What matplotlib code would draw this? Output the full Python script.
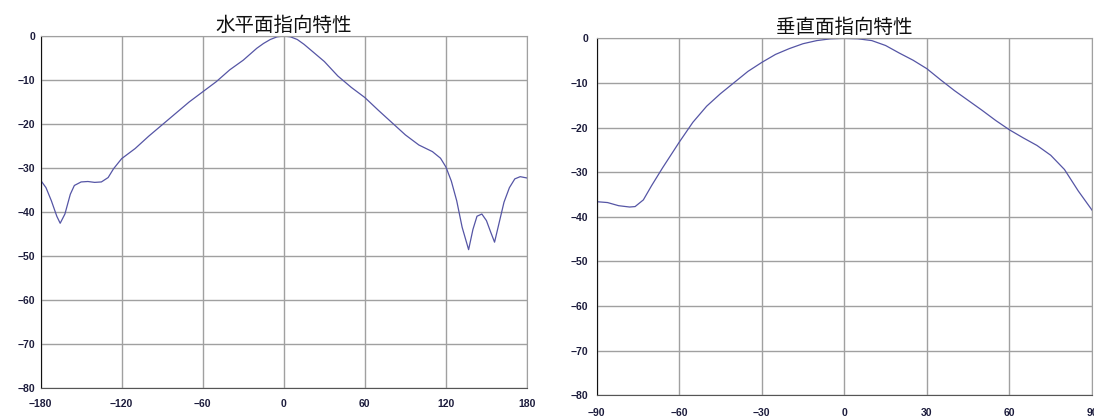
import numpy as np
import matplotlib
matplotlib.use("Agg")
import matplotlib.pyplot as plt

plt.rcParams['font.family'] = ['Noto Sans CJK JP', 'DejaVu Sans']

# horizontal plane pattern (deg, dB)
h_angles = [-180, -176, -172, -168, -165.5, -162, -158, -155, -150, -145, -140, -135,
            -130, -126, -120, -110, -100, -90, -80, -70, -60, -50, -40, -30, -20, -15,
            -10, -5, 0, 5, 10, 15, 20, 30, 40, 50, 60, 70, 80, 90, 100, 110, 116, 120,
            124, 128, 132, 136.8, 140, 143, 146.6, 150, 153, 156, 159, 163, 167, 171,
            175, 180]
h_gain = [-32.8, -34.5, -37.5, -41.0, -42.6, -40.5, -36.0, -34.0, -33.2, -33.1, -33.3, -33.2,
          -32.2, -30.2, -27.9, -25.6, -22.8, -20.2, -17.6, -15.0, -12.7, -10.4, -7.7, -5.5, -2.8, -1.7,
          -0.8, -0.2, 0.0, -0.2, -0.8, -1.9, -3.2, -5.8, -9.1, -11.7, -14.0, -16.9, -19.7, -22.5, -24.8, -26.3, -27.8, -29.8,
          -33.0, -37.5, -43.5, -48.6, -44.0, -41.0, -40.5, -42.0, -44.5, -46.9, -43.0, -37.8, -34.5, -32.5,
          -32.0, -32.3]

# vertical plane pattern (deg, dB)
v_angles = [-90, -86, -82, -78, -76, -73, -70, -66, -60, -55, -50, -45, -40, -35, -30, -25,
            -20, -15, -10, -5, 0, 5, 10, 15, 20, 25, 30, 35, 40, 45, 50, 55, 60, 65, 70,
            75, 80, 85, 90]
v_gain = [-36.6, -36.8, -37.5, -37.8, -37.7, -36.2, -33.0, -29.0, -23.3, -18.8, -15.2, -12.4,
          -9.9, -7.4, -5.4, -3.6, -2.3, -1.2, -0.5, -0.1, 0.0, -0.1, -0.5, -1.6, -3.3, -4.9,
          -6.8, -9.3, -11.7, -13.9, -16.1, -18.4, -20.5, -22.3, -24.0, -26.2, -29.4, -34.2, -38.5]

h_ticks = [-180, -120, -60, 0, 60, 120, 180]
v_ticks = [-90, -60, -30, 0, 30, 60, 90]
y_ticks = [0, -10, -20, -30, -40, -50, -60, -70, -80]

line_color = '#5555a5'
label_color = '#1c1c3c'


def style_axes(ax, xticks, title, ypad, xpad):
    ax.set_xlim(xticks[0], xticks[-1])
    ax.set_ylim(-80, 0)
    ax.set_xticks(xticks)
    ax.set_yticks(y_ticks)
    ax.grid(True, color='#a0a0a0', lw=1.0)
    ax.set_axisbelow(True)
    ax.tick_params(length=0, labelsize=7.5, labelcolor=label_color)
    ax.tick_params(axis='y', pad=ypad)
    ax.tick_params(axis='x', pad=xpad)
    for lab in ax.get_xticklabels() + ax.get_yticklabels():
        lab.set_family('Liberation Sans')
        lab.set_fontweight('bold')
    ax.spines['left'].set_color('#111111')
    ax.spines['bottom'].set_color('#555555')
    ax.spines['top'].set_color('#a0a0a0')
    ax.spines['right'].set_color('#a0a0a0')
    ax.set_title(title, fontsize=14, pad=2, color='#111111')


fig = plt.figure(figsize=(10.94, 4.17), dpi=100)
ax1 = fig.add_axes([0.0371, 0.0703, 0.4446, 0.8434])
ax2 = fig.add_axes([0.5453, 0.052, 0.4529, 0.856])

ax1.plot(h_angles, h_gain, color=line_color, lw=0.9)
style_axes(ax1, h_ticks, '水平面指向特性', ypad=4, xpad=8)

ax2.plot(v_angles, v_gain, color=line_color, lw=0.9)
style_axes(ax2, v_ticks, '垂直面指向特性', ypad=6, xpad=9)

fig.savefig('out.png', dpi=100)
